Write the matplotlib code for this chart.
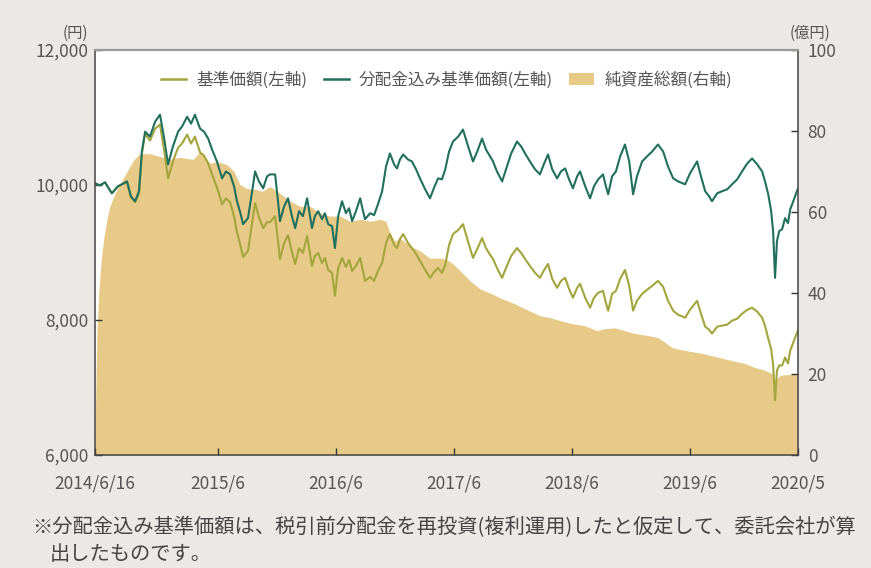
import pandas as pd
import matplotlib
matplotlib.use("Agg")
from matplotlib import pyplot as plt
from matplotlib.lines import Line2D
from matplotlib.patches import Patch

plt.rcParams['font.family'] = ['Noto Sans CJK JP', 'DejaVu Sans']

# dates for the two NAV lines
line_dates = [
    "2014-06-16", "2014-07-01", "2014-07-17", "2014-08-07", "2014-08-26", "2014-09-07",
    "2014-09-23", "2014-10-05", "2014-10-18", "2014-10-30", "2014-11-08", "2014-11-18",
    "2014-12-03", "2014-12-19", "2015-01-03", "2015-01-15", "2015-01-28", "2015-02-12",
    "2015-02-28", "2015-03-12", "2015-03-28", "2015-04-09", "2015-04-21", "2015-05-07",
    "2015-05-19", "2015-06-01", "2015-06-13", "2015-06-28", "2015-07-14", "2015-07-26",
    "2015-08-08", "2015-08-20", "2015-08-29", "2015-09-07", "2015-09-17", "2015-10-02",
    "2015-10-15", "2015-10-24", "2015-11-05", "2015-11-18", "2015-11-30", "2015-12-09",
    "2015-12-25", "2016-01-03", "2016-01-09", "2016-01-22", "2016-02-03", "2016-02-15",
    "2016-02-25", "2016-03-08", "2016-03-20", "2016-04-02", "2016-04-11", "2016-04-17",
    "2016-04-26", "2016-05-06", "2016-05-18", "2016-05-27", "2016-06-06", "2016-06-18",
    "2016-06-27", "2016-07-07", "2016-07-19", "2016-07-31", "2016-08-10", "2016-08-19",
    "2016-08-31", "2016-09-13", "2016-09-22", "2016-09-28", "2016-10-14", "2016-10-26",
    "2016-11-07", "2016-11-20", "2016-12-02", "2016-12-14", "2016-12-27", "2017-01-05",
    "2017-01-14", "2017-01-24", "2017-02-08", "2017-02-20", "2017-03-05", "2017-03-17",
    "2017-04-02", "2017-04-17", "2017-04-30", "2017-05-12", "2017-05-24", "2017-06-03",
    "2017-06-15", "2017-06-27", "2017-07-13", "2017-07-28", "2017-08-13", "2017-08-28",
    "2017-09-10", "2017-09-25", "2017-10-07", "2017-10-20", "2017-10-29", "2017-11-10",
    "2017-11-26", "2017-12-08", "2017-12-24", "2018-01-11", "2018-01-24", "2018-02-05",
    "2018-02-20", "2018-03-08", "2018-03-23", "2018-04-05", "2018-04-17", "2018-04-30",
    "2018-05-15", "2018-05-27", "2018-06-09", "2018-06-21", "2018-07-03", "2018-07-16",
    "2018-07-25", "2018-08-10", "2018-08-25", "2018-09-06", "2018-09-19", "2018-10-04",
    "2018-10-13", "2018-10-20", "2018-11-01", "2018-11-13", "2018-11-26", "2018-12-11",
    "2018-12-24", "2019-01-05", "2019-01-17", "2019-02-02", "2019-02-17", "2019-03-05",
    "2019-03-23", "2019-04-08", "2019-04-23", "2019-05-09", "2019-05-24", "2019-06-15",
    "2019-06-30", "2019-07-22", "2019-08-03", "2019-08-16", "2019-08-28", "2019-09-06",
    "2019-09-22", "2019-10-07", "2019-10-23", "2019-11-07", "2019-11-23", "2019-12-08",
    "2019-12-24", "2020-01-08", "2020-01-24", "2020-02-08", "2020-02-17", "2020-02-27",
    "2020-03-07", "2020-03-13", "2020-03-19", "2020-03-25", "2020-04-01", "2020-04-10",
    "2020-04-19", "2020-04-28", "2020-05-05", "2020-05-11", "2020-05-20", "2020-05-29",
]

# 分配金込み基準価額 (円)
nav_div = [
    10025, 9995, 10039, 9877, 9980, 10010, 10054, 9833, 9759, 9907, 10496, 10791,
    10717, 10939, 11042, 10717, 10305, 10570, 10791, 10865, 11012, 10909, 11042, 10835,
    10791, 10688, 10526, 10349, 10098, 10201, 10157, 9980, 9759, 9612, 9420, 9509,
    9907, 10201, 10054, 9951, 10128, 10157, 10157, 9759, 9464, 9686, 9803, 9538,
    9361, 9612, 9538, 9803, 9538, 9361, 9538, 9612, 9494, 9582, 9420, 9391,
    9066, 9538, 9759, 9582, 9656, 9464, 9612, 9803, 9612, 9494, 9582, 9553,
    9715, 9907, 10275, 10467, 10305, 10246, 10378, 10452, 10378, 10349, 10231, 10098,
    9936, 9803, 9966, 10098, 10084, 10231, 10496, 10644, 10717, 10821, 10570, 10349,
    10496, 10688, 10526, 10423, 10349, 10201, 10054, 10231, 10467, 10644, 10570, 10467,
    10349, 10231, 10157, 10319, 10452, 10231, 10098, 10201, 10246, 10084, 9951, 10128,
    10201, 9980, 9803, 9980, 10084, 10157, 9980, 9862, 10128, 10201, 10423, 10600,
    10349, 9862, 10128, 10349, 10423, 10496, 10600, 10496, 10275, 10098, 10054, 10010,
    10172, 10349, 10128, 9907, 9833, 9759, 9877, 9907, 9936, 10010, 10084, 10201,
    10319, 10393, 10305, 10201, 10054, 9862, 9612, 9317, 8624, 9170, 9317, 9346,
    9509, 9435, 9641, 9715, 9833, 9951,
]

# 基準価額 (円)
nav = [
    10025, 9995, 10039, 9877, 9980, 10010, 10039, 9818, 9744, 9877, 10467, 10762,
    10658, 10835, 10894, 10540, 10098, 10349, 10555, 10614, 10747, 10614, 10717, 10482,
    10437, 10319, 10157, 9966, 9715, 9803, 9744, 9538, 9302, 9140, 8934, 9022,
    9435, 9730, 9523, 9361, 9450, 9450, 9538, 9170, 8904, 9140, 9258, 9008,
    8830, 9066, 8993, 9243, 8978, 8801, 8948, 8993, 8845, 8919, 8742, 8698,
    8359, 8771, 8919, 8786, 8889, 8727, 8801, 8919, 8713, 8580, 8639, 8580,
    8727, 8845, 9140, 9273, 9111, 9066, 9199, 9273, 9140, 9066, 8978, 8875,
    8742, 8624, 8713, 8771, 8698, 8816, 9111, 9273, 9332, 9420, 9155, 8919,
    9052, 9214, 9066, 8963, 8904, 8771, 8624, 8771, 8948, 9066, 8993, 8904,
    8801, 8698, 8624, 8742, 8830, 8609, 8477, 8580, 8624, 8462, 8329, 8477,
    8536, 8329, 8182, 8329, 8403, 8432, 8255, 8138, 8388, 8432, 8609, 8742,
    8506, 8138, 8285, 8388, 8447, 8506, 8580, 8491, 8285, 8138, 8079, 8034,
    8152, 8285, 8093, 7902, 7857, 7799, 7902, 7916, 7931, 7990, 8020, 8093,
    8152, 8182, 8123, 8034, 7916, 7725, 7570, 7340, 6811, 7253, 7327, 7327,
    7445, 7356, 7548, 7622, 7740, 7843,
]

# 純資産総額 (億円)
asset_dates = [
    "2014-06-16", "2014-06-19", "2014-06-22", "2014-06-28", "2014-07-05", "2014-07-14",
    "2014-07-23", "2014-08-01", "2014-08-17", "2014-09-01", "2014-09-23", "2014-10-15",
    "2014-11-02", "2014-12-03", "2015-01-03", "2015-02-03", "2015-03-06", "2015-04-15",
    "2015-05-07", "2015-06-07", "2015-06-28", "2015-07-29", "2015-08-20", "2015-09-07",
    "2015-09-29", "2015-10-24", "2015-11-15", "2015-12-09", "2016-01-09", "2016-02-09",
    "2016-03-11", "2016-04-11", "2016-05-12", "2016-06-12", "2016-07-13", "2016-08-13",
    "2016-09-13", "2016-10-14", "2016-11-13", "2016-12-02", "2016-12-14", "2016-12-30",
    "2017-01-14", "2017-02-14", "2017-03-17", "2017-04-17", "2017-05-18", "2017-06-03",
    "2017-06-24", "2017-07-19", "2017-08-19", "2017-09-19", "2017-10-20", "2017-11-20",
    "2017-12-11", "2018-01-05", "2018-02-05", "2018-03-23", "2018-04-23", "2018-05-24",
    "2018-07-03", "2018-08-10", "2018-09-16", "2018-10-10", "2018-11-10", "2018-12-11",
    "2019-01-11", "2019-02-20", "2019-03-23", "2019-04-14", "2019-05-06", "2019-06-15",
    "2019-08-06", "2019-09-16", "2019-11-07", "2019-12-17", "2020-01-17", "2020-02-17",
    "2020-03-10", "2020-03-19", "2020-04-04", "2020-05-05", "2020-05-29",
]
assets = [
    3.7, 18.4, 30.7, 40.5, 47.9, 54.1, 58.2, 61.4, 64.6, 66.8, 70.0, 73.0,
    74.4, 74.4, 73.7, 73.0, 73.5, 73.0, 74.9, 72.0, 72.5, 71.7, 70.0, 66.8,
    65.8, 65.6, 65.1, 66.3, 64.6, 62.7, 61.4, 61.4, 59.7, 59.0, 59.0, 57.7,
    58.2, 57.7, 58.2, 57.7, 54.8, 52.8, 53.6, 51.6, 50.4, 48.6, 48.6, 48.4,
    47.4, 45.5, 43.0, 41.0, 40.0, 38.8, 38.1, 37.3, 36.1, 34.4, 33.9, 33.2,
    32.4, 31.9, 30.7, 31.2, 31.4, 30.7, 30.0, 29.5, 29.0, 27.8, 26.5, 25.8,
    25.1, 24.3, 23.3, 22.6, 21.6, 20.9, 20.1, 18.4, 19.7, 19.9, 20.1,
]

tick_dates = ["2014-06-16", "2015-06-30", "2016-06-30", "2017-06-30",
              "2018-06-30", "2019-06-30", "2020-05-29"]
tick_labels = ["2014/6/16", "2015/6", "2016/6", "2017/6", "2018/6", "2019/6", "2020/5"]
left_ticks = [6000, 8000, 10000, 12000]
right_ticks = [0, 20, 40, 60, 80, 100]

OLIVE = '#a4a53c'
TEAL = '#21705e'
TAN = '#e8ca88'
GREY = '#555555'

line_dates = pd.to_datetime(line_dates)
asset_dates = pd.to_datetime(asset_dates)
tick_dates = pd.to_datetime(tick_dates)

fig = plt.figure(figsize=(8.71, 5.68), dpi=100, facecolor='#ebe9e6')
ax = fig.add_axes([95/871, 113/568, 703/871, 405/568])
ax2 = ax.twinx()

ax2.fill_between(asset_dates, 0, assets, color=TAN, lw=0)
ax.plot(line_dates, nav, color=OLIVE, lw=1.5)
ax.plot(line_dates, nav_div, color=TEAL, lw=1.5)

ax.set_zorder(ax2.get_zorder() + 1)
ax.patch.set_visible(False)
ax2.patch.set_visible(True)
ax2.patch.set_facecolor('white')

ax.set_xlim(line_dates[0], line_dates[-1])
ax.set_ylim(6000, 12000)
ax2.set_ylim(0, 100)

ax.set_yticks(left_ticks)
ax.set_yticklabels([f"{v:,}" for v in left_ticks])
ax2.set_yticks(right_ticks)
ax2.set_yticklabels([str(v) for v in right_ticks])
ax.set_xticks(tick_dates)
ax.set_xticklabels(tick_labels)

ax.tick_params(axis='both', direction='in', length=5, width=1, color='#333333',
               labelcolor=GREY, labelsize=12.5)
ax.tick_params(axis='x', pad=14)
ax.tick_params(axis='y', pad=5)
ax2.tick_params(axis='y', direction='in', length=5, width=1, color='#333333',
                labelcolor=GREY, labelsize=12.5, pad=7)

for s in ax2.spines.values():
    s.set_visible(False)
for name in ['left', 'bottom', 'right']:
    ax.spines[name].set_color('#444444')
    ax.spines[name].set_linewidth(1.1)
ax.spines['top'].set_color('#9a9a9a')
ax.spines['top'].set_linewidth(1.6)

handles = [Line2D([], [], color=OLIVE, lw=1.8),
           Line2D([], [], color=TEAL, lw=1.8),
           Patch(facecolor=TAN, edgecolor='none')]
labels = ["基準価額(左軸)", "分配金込み基準価額(左軸)", "純資産総額(右軸)"]
leg = ax.legend(handles, labels, loc='upper center', bbox_to_anchor=(0.5, 0.985),
                ncol=3, frameon=False, fontsize=12, handlelength=1.5,
                handletextpad=0.6, columnspacing=1.0)
for t in leg.get_texts():
    t.set_color(GREY)

fig.text(88/871, 1 - 33/568, "(円)", ha='right', va='center', fontsize=11, color=GREY)
fig.text(790/871, 1 - 33/568, "(億円)", ha='left', va='center', fontsize=11, color=GREY)

fig.text(32/871, 1 - 528/568,
         "※分配金込み基準価額は、税引前分配金を再投資(複利運用)したと仮定して、委託会社が算",
         ha='left', va='center', fontsize=14.6, color='#444444')
fig.text(50/871, 1 - 555/568, "出したものです。",
         ha='left', va='center', fontsize=14.6, color='#444444')

fig.savefig("out.png", dpi=100, facecolor=fig.get_facecolor())
